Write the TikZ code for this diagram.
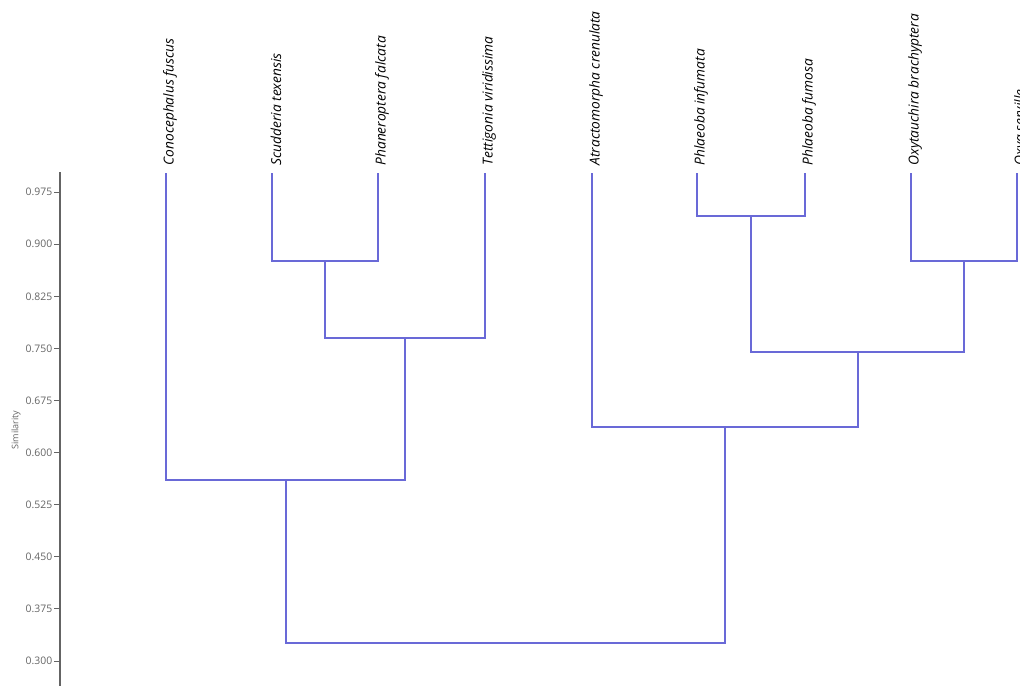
\documentclass[tikz,border=0pt]{standalone}
\usepackage{fontspec}
\setmainfont{Open Sans}
\definecolor{treeblue}{RGB}{105,105,215}
\definecolor{axisgray}{RGB}{100,100,100}
\tikzset{
  link/.style={draw=treeblue,line width=0.9pt},
  leaflabel/.style={rotate=90,anchor=west,inner sep=1pt,font=\itshape\fontsize{10.3}{12}\selectfont},
  ticklabel/.style={anchor=east,inner sep=1pt,text=axisgray,font=\fontsize{7.8}{9}\selectfont}
}
\begin{document}
\begin{tikzpicture}[x=0.75pt,y=-0.75pt]
  \useasboundingbox (0,0) rectangle (1020,686);
  % axis
  \draw[axisgray,line width=0.9pt] (60,172) -- (60,686);
  \foreach \v [count=\i from 0] in {0.300,0.375,0.450,0.525,0.600,0.675,0.750,0.825,0.900,0.975}{
    \draw[axisgray,line width=0.7pt] (54,661-52.1*\i) -- (60,661-52.1*\i)
      node[ticklabel] at (54,661-52.1*\i) {\v};  }
  \node[rotate=90,text=axisgray,font=\fontsize{6.8}{8}\selectfont] (ylab) at (16,430) {Similarity};
  % leaves
  \foreach \x/\name/\txt in {166/cof/Conocephalus fuscus,272/sct/Scudderia texensis,
      378/phf/Phaneroptera falcata,485/tev/Tettigonia viridissima,
      592/atc/Atractomorpha crenulata,697/phi/Phlaeoba infumata,
      805/phu/Phlaeoba fumosa,911/oxb/Oxytauchira brachyptera,1017/oxs/Oxya serville}{
    \coordinate (\name) at (\x,173);
    \node[leaflabel] (\name-l) at (\x+4,167) {\txt};  }
  % merge points
  \coordinate (m1) at (325,261);
  \coordinate (m2) at (405,338);
  \coordinate (m3) at (286,480);
  \coordinate (p1) at (751,216);
  \coordinate (o1) at (964,261);
  \coordinate (p2) at (858,352);
  \coordinate (a1) at (725,427);
  \coordinate (root) at (505,643);
  % links
  \draw[link] (sct) |- (m1) -| (phf);
  \draw[link] (m1) |- (m2) -| (tev);
  \draw[link] (cof) |- (m3) -| (m2);
  \draw[link] (phi) |- (p1) -| (phu);
  \draw[link] (oxb) |- (o1) -| (oxs);
  \draw[link] (p1) |- (p2) -| (o1);
  \draw[link] (atc) |- (a1) -| (p2);
  \draw[link] (m3) |- (root) -| (a1);
\end{tikzpicture}
\end{document}
